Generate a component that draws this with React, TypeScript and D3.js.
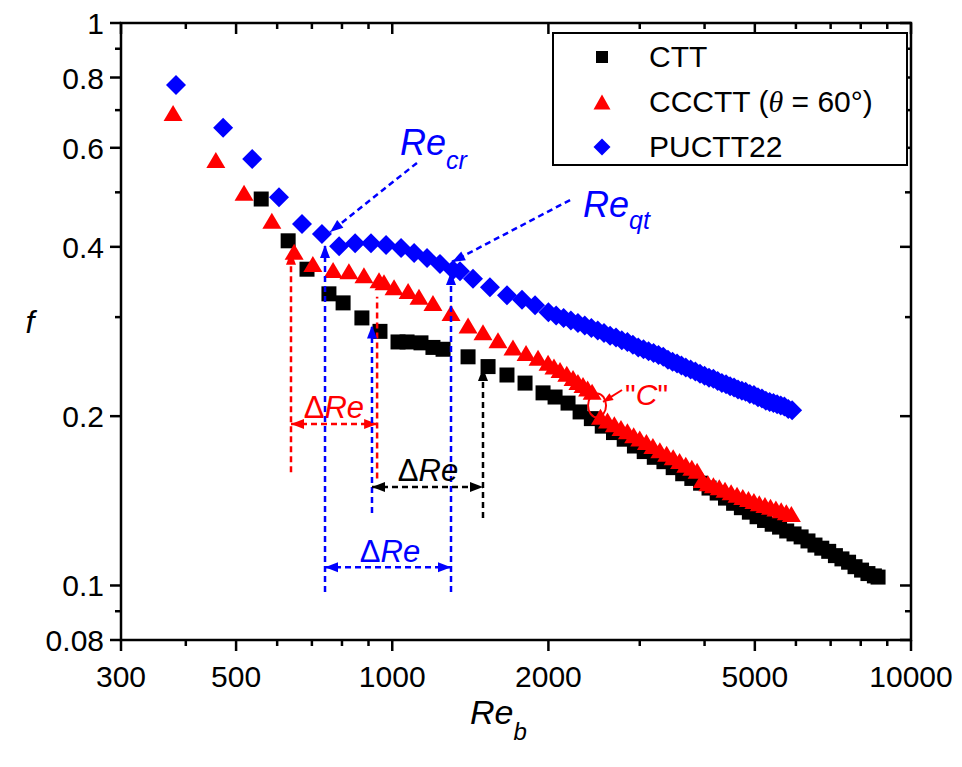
import React from 'react';
import * as d3 from 'd3';

// Reynolds number (Re_b) and friction factor (f) for each tube
const cttRe = [559, 630, 685, 755, 804, 874, 947, 1026, 1068, 1136, 1198, 1253, 1400, 1530, 1664, 1803, 1953,
  2060, 2182, 2302, 2420, 2540, 2670, 2800, 2930, 3060, 3200, 3340, 3480, 3630, 3780, 3930, 4080, 4230, 4390,
  4550, 4710, 4880, 5050, 5220, 5400, 5580, 5760, 5950, 6140, 6330, 6530, 6730, 6940, 7150, 7360, 7580, 7800,
  8030, 8260, 8500, 8640];
const cttF = [0.4865, 0.41, 0.365, 0.33, 0.318, 0.299, 0.283, 0.271, 0.271, 0.27, 0.265, 0.263, 0.255, 0.245,
  0.2367, 0.229, 0.22, 0.2163, 0.211, 0.2035, 0.198, 0.192, 0.187, 0.182, 0.177, 0.173, 0.169, 0.166, 0.162,
  0.158, 0.155, 0.152, 0.149, 0.146, 0.143, 0.14, 0.1375, 0.135, 0.1325, 0.1305, 0.1285, 0.127, 0.125, 0.1235,
  0.122, 0.12, 0.118, 0.1165, 0.115, 0.113, 0.1115, 0.11, 0.108, 0.1065, 0.105, 0.104, 0.1035];

const ccRe = [378, 457, 518, 586, 647, 703, 769, 825, 882, 943, 964, 1008, 1073, 1126, 1198, 1298, 1400, 1496,
  1599, 1709, 1811, 1910, 1997, 2050, 2106, 2170, 2231, 2280, 2332, 2380, 2428,
  2520, 2600, 2680, 2760, 2840, 2920, 3000, 3090, 3180, 3280, 3380, 3480, 3580, 3680, 3780, 3870,
  3960, 4060, 4160, 4270, 4380, 4500, 4620, 4740, 4860, 4980, 5100, 5230, 5360, 5490, 5620, 5750, 5880];
const ccF = [0.692, 0.571, 0.499, 0.445, 0.392, 0.373, 0.364, 0.362, 0.356, 0.349, 0.346, 0.339, 0.334, 0.326,
  0.318, 0.305, 0.29, 0.282, 0.273, 0.265, 0.259, 0.254, 0.249, 0.245, 0.2416, 0.238, 0.2338, 0.230, 0.2272,
  0.224, 0.221,
  0.1995, 0.1965, 0.1935, 0.1905, 0.188, 0.185, 0.1825, 0.18, 0.177, 0.174, 0.1715, 0.169, 0.1665, 0.164, 0.162, 0.16,
  0.154, 0.152, 0.1508, 0.1495, 0.148, 0.1465, 0.145, 0.1437, 0.1425, 0.1413, 0.14, 0.139, 0.138, 0.137, 0.136,
  0.135, 0.134];

const puRe = [383, 472, 537, 605, 670, 732, 790, 848, 910, 973, 1040, 1102, 1167, 1236, 1310, 1351, 1431, 1543,
  1664, 1779, 1885, 2000, 2070, 2140, 2210, 2280, 2350, 2420, 2490, 2560, 2630, 2700, 2770, 2840, 2910, 2980,
  3050, 3120, 3190, 3260, 3330, 3400, 3470, 3540, 3610, 3680, 3760, 3840, 3920, 4000, 4080, 4160, 4240, 4320,
  4400, 4480, 4560, 4640, 4720, 4800, 4890, 4980, 5070, 5160, 5250, 5340, 5430, 5520, 5610, 5700, 5800, 5900];
const puF = [0.776, 0.651, 0.573, 0.49, 0.439, 0.4215, 0.401, 0.406, 0.406, 0.403, 0.398, 0.39, 0.382, 0.373,
  0.364, 0.362, 0.351, 0.339, 0.328, 0.322, 0.315, 0.306, 0.302, 0.299, 0.296, 0.293, 0.29, 0.287, 0.284, 0.281,
  0.278, 0.276, 0.273, 0.271, 0.268, 0.265, 0.263, 0.261, 0.259, 0.257, 0.255, 0.252, 0.25, 0.248, 0.246, 0.244,
  0.242, 0.24, 0.238, 0.236, 0.234, 0.233, 0.231, 0.229, 0.228, 0.226, 0.225, 0.223, 0.222, 0.221, 0.219, 0.218,
  0.216, 0.215, 0.213, 0.212, 0.211, 0.21, 0.209, 0.208, 0.206, 0.205];

const xMajor = [300, 500, 1000, 2000, 5000, 10000];
const xMinor = [400, 600, 700, 800, 900, 3000, 4000, 6000, 7000, 8000, 9000];
const yMajor = [0.08, 0.1, 0.2, 0.4, 0.6, 0.8, 1];
const yMinor = [0.09, 0.3, 0.5, 0.7, 0.9];

const FONT = "Arial, 'Liberation Sans', sans-serif";
const BLUE = '#0000ff';
const RED = '#ff0000';

const L = 121, R = 911, T = 23, B = 640;
const x = d3.scaleLog().domain([300, 10000]).range([L, R]);
const y = d3.scaleLog().domain([0.08, 1]).range([B, T]);

const squarePath = (s: number) => `M${-s / 2},${-s / 2}h${s}v${s}h${-s}Z`;
const trianglePath = (w: number, h: number) => `M0,${-h / 2}L${w / 2},${h / 2}L${-w / 2},${h / 2}Z`;
const diamondPath = (w: number, h: number) => `M0,${-h / 2}L${w / 2},0L0,${h / 2}L${-w / 2},0Z`;

// filled arrow head at (x2,y2), pointing away from (x1,y1)
function head(x1: number, y1: number, x2: number, y2: number, len = 13, hw = 5) {
  const a = Math.atan2(y2 - y1, x2 - x1);
  const bx = x2 - len * Math.cos(a), by = y2 - len * Math.sin(a);
  const px = -Math.sin(a) * hw, py = Math.cos(a) * hw;
  return `${x2},${y2} ${bx + px},${by + py} ${bx - px},${by - py}`;
}

function Dash({ x1, y1, x2, y2, color, arrow = '' }: any) {
  const X1 = x(x1), Y1 = y(y1), X2 = x(x2), Y2 = y(y2);
  return (
    <g>
      <line x1={X1} y1={Y1} x2={X2} y2={Y2} stroke={color} strokeWidth={2.5} strokeDasharray="6 4" />
      {arrow.includes('end') && <polygon points={head(X1, Y1, X2, Y2)} fill={color} />}
      {arrow.includes('start') && <polygon points={head(X2, Y2, X1, Y1)} fill={color} />}
    </g>
  );
}

function DeltaRe({ re, f, color }: any) {
  return (
    <text x={x(re)} y={y(f)} fill={color} fontSize={31} textAnchor="middle" fontFamily={FONT}>
      Δ<tspan fontStyle="italic">Re</tspan>
    </text>
  );
}

export default function App() {
  const black = cttRe.map((r, i) => [x(r), y(cttF[i])]);
  const red = ccRe.map((r, i) => [x(r), y(ccF[i])]);
  const blue = puRe.map((r, i) => [x(r), y(puF[i])]);

  return (
    <svg width={962} height={767} style={{ position: 'absolute', left: 0, top: 0, background: '#fff' }}
      fontFamily={FONT}>
      {/* data */}
      {black.map(([px, py], i) => (
        <path key={'k' + i} d={squarePath(15)} transform={`translate(${px},${py})`} fill="#000" />
      ))}
      {red.map(([px, py], i) => (
        <path key={'r' + i} d={trianglePath(19, 16)} transform={`translate(${px},${py})`} fill={RED} />
      ))}
      {blue.map(([px, py], i) => (
        <path key={'b' + i} d={diamondPath(20, 20)} transform={`translate(${px},${py})`} fill={BLUE} />
      ))}

      {/* annotations: red */}
      <Dash x1={638} y1={0.159} x2={638} y2={0.392} color={RED} arrow="end" />
      <Dash x1={935} y1={0.155} x2={935} y2={0.326} color={RED} />
      <Dash x1={638} y1={0.1937} x2={935} y2={0.1937} color={RED} arrow="start end" />
      <DeltaRe re={772} f={0.1985} color={RED} />

      {/* blue */}
      <Dash x1={742} y1={0.0974} x2={742} y2={0.403} color={BLUE} arrow="end" />
      <Dash x1={914} y1={0.1345} x2={914} y2={0.29} color={BLUE} arrow="end" />
      <Dash x1={1298} y1={0.0974} x2={1298} y2={0.361} color={BLUE} arrow="end" />
      <Dash x1={742} y1={0.1078} x2={1298} y2={0.1078} color={BLUE} arrow="start end" />
      <DeltaRe re={990} f={0.110} color={BLUE} />

      {/* black */}
      <Dash x1={1496} y1={0.1318} x2={1496} y2={0.2436} color="#000" arrow="end" />
      <Dash x1={914} y1={0.1497} x2={1496} y2={0.1497} color="#000" arrow="start end" />
      <DeltaRe re={1172} f={0.1534} color="#000" />

      {/* Re_cr / Re_qt */}
      <Dash x1={1116} y1={0.564} x2={759} y2={0.425} color={BLUE} arrow="end" />
      <text x={x(1035)} y={y(0.5825)} fill={BLUE} fontSize={36} fontStyle="italic">
        Re<tspan fontSize={25} dy={14}>cr</tspan>
      </text>
      <Dash x1={2202} y1={0.4845} x2={1304} y2={0.376} color={BLUE} arrow="end" />
      <text x={x(2332)} y={y(0.452)} fill={BLUE} fontSize={36} fontStyle="italic">
        Re<tspan fontSize={25} dy={12}>qt</tspan>
      </text>

      {/* "C" */}
      <ellipse cx={x(2482)} cy={y(0.209)} rx={9} ry={12} fill="none" stroke={RED} strokeWidth={2} />
      <line x1={x(2773)} y1={y(0.2226)} x2={x(2549)} y2={y(0.212)} stroke={RED} strokeWidth={2} />
      <polygon points={head(x(2773), y(0.2226), x(2549), y(0.212), 10, 4)} fill={RED} />
      <text x={x(2811)} y={y(0.209)} fill={RED} fontSize={30}>
        "<tspan fontStyle="italic">C</tspan>"
      </text>

      {/* frame */}
      <rect x={L} y={T} width={R - L} height={B - T} fill="none" stroke="#000" strokeWidth={2.5} />

      {/* x ticks: bottom outward, top inward */}
      {xMajor.map(v => (
        <g key={'xM' + v}>
          <line x1={x(v)} x2={x(v)} y1={B} y2={B + 11} stroke="#000" strokeWidth={2.5} />
          <line x1={x(v)} x2={x(v)} y1={T} y2={T + 11} stroke="#000" strokeWidth={2.5} />
          <text x={x(v)} y={687} fontSize={30} textAnchor="middle">{v}</text>
        </g>
      ))}
      {xMinor.map(v => (
        <g key={'xm' + v}>
          <line x1={x(v)} x2={x(v)} y1={B} y2={B + 6} stroke="#000" strokeWidth={2.5} />
          <line x1={x(v)} x2={x(v)} y1={T} y2={T + 6} stroke="#000" strokeWidth={2.5} />
        </g>
      ))}

      {/* y ticks: left outward, right inward */}
      {yMajor.map(v => (
        <g key={'yM' + v}>
          <line x1={L - 11} x2={L} y1={y(v)} y2={y(v)} stroke="#000" strokeWidth={2.5} />
          <line x1={R - 11} x2={R} y1={y(v)} y2={y(v)} stroke="#000" strokeWidth={2.5} />
          <text x={104} y={y(v) + 11} fontSize={30} textAnchor="end">{v}</text>
        </g>
      ))}
      {yMinor.map(v => (
        <g key={'ym' + v}>
          <line x1={L - 6} x2={L} y1={y(v)} y2={y(v)} stroke="#000" strokeWidth={2.5} />
          <line x1={R - 6} x2={R} y1={y(v)} y2={y(v)} stroke="#000" strokeWidth={2.5} />
        </g>
      ))}

      {/* axis titles */}
      <text x={30} y={333} fontSize={32} fontStyle="italic" textAnchor="middle">f</text>
      <text x={470} y={724} fontSize={34} fontStyle="italic">
        Re<tspan fontSize={24} dy={16}>b</tspan>
      </text>

      {/* legend */}
      <rect x={553} y={33} width={354} height={132} fill="#fff" stroke="#000" strokeWidth={2} />
      <path d={squarePath(12)} transform="translate(602,57)" fill="#000" />
      <text x={649} y={67} fontSize={30}>CTT</text>
      <path d={trianglePath(17, 15)} transform="translate(602,102)" fill={RED} />
      <text x={649} y={112} fontSize={30}>
        CCCTT (<tspan fontStyle="italic" fontFamily="'Liberation Serif', 'DejaVu Serif', serif">θ</tspan> = 60°)
      </text>
      <path d={diamondPath(17, 17)} transform="translate(602,147)" fill={BLUE} />
      <text x={649} y={157} fontSize={30}>PUCTT22</text>
    </svg>
  );
}
